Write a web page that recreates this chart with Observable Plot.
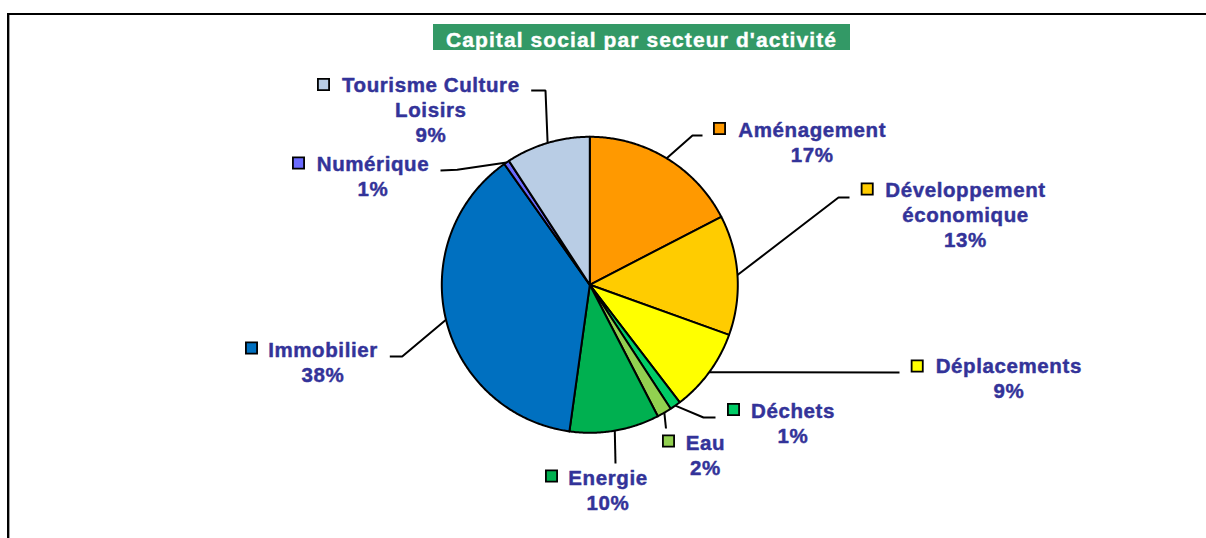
<!DOCTYPE html>
<html><head><meta charset="utf-8">
<script src="https://cdn.jsdelivr.net/npm/d3@7"></script>
<script src="https://cdn.jsdelivr.net/npm/@observablehq/plot@0.6"></script>
<style>
html,body{margin:0;padding:0;background:#fff;overflow:hidden;width:1206px;height:538px;}
#chart{position:absolute;left:0;top:0;}
#frame{position:absolute;left:7px;top:13px;width:1400px;height:700px;border-left:2px solid #000;border-top:2.5px solid #000;box-shadow:inset 1px 0 0 #a0a0a0;pointer-events:none;}
#title{position:absolute;left:433px;top:24px;width:417px;height:23px;padding-top:3px;background:#339966;color:#fff;font:bold 21px "Liberation Sans",Arial,sans-serif;letter-spacing:1.1px;text-align:center;line-height:26px;white-space:nowrap;-webkit-text-stroke:0.4px #fff;}
</style></head><body>
<div id="chart"></div><div id="frame"></div><div id="title">Capital social par secteur d'activité</div>
<script>
// ---- data ----
const sectors = ["Aménagement", "Développement économique", "Déplacements", "Déchets", "Eau", "Energie", "Immobilier", "Numérique", "Tourisme Culture Loisirs"];
const shares = [17.4, 13.1, 9.1, 1.2, 1.6, 9.8, 38.0, 0.6, 9.2];
const colors = ["#FF9900", "#FFCC00", "#FFFF00", "#00CC66", "#92D050", "#00B050", "#0070C0", "#6B6BFF", "#B9CDE5"];

// ---- layout (label placement, line breaks) ----
const pie = {cx: 589.3, cy: 284.3, r: 148};
const lineGap = 25;
const labelLayout = [
  {lines: ["Aménagement"], tx: 811.7, ty: 136, kx: 719, ky: 128, path: [[692, 135], [702, 135]]},
  {lines: ["Développement", "économique"], tx: 965, ty: 196, kx: 866.7, ky: 188.5, path: [[838, 197], [849, 197]]},
  {lines: ["Déplacements"], tx: 1008.3, ty: 372.3, kx: 916.7, ky: 365.5, path: [[899, 372]]},
  {lines: ["Déchets"], tx: 792.5, ty: 417.3, kx: 733, ky: 409, path: [[703, 417], [715, 417]]},
  {lines: ["Eau"], tx: 705, ty: 449.3, kx: 668, ky: 440.5, path: [[665.5, 428]]},
  {lines: ["Energie"], tx: 607.5, ty: 484, kx: 551, ky: 475.5, path: [[615, 463]]},
  {lines: ["Immobilier"], tx: 322.5, ty: 356.7, kx: 251, ky: 347.5, path: [[401.7, 356], [389.3, 356]]},
  {lines: ["Numérique"], tx: 372.5, ty: 170, kx: 298, ky: 162.5, path: [[456.7, 169.3], [440, 170]]},
  {lines: ["Tourisme Culture", "Loisirs"], tx: 430.3, ty: 91.7, kx: 323, ky: 84, path: [[545, 90], [530.7, 90]]}
];

// ---- derived geometry ----
const total = d3.sum(shares);
const slicePts = [], leaderPts = [], keyPts = [], textPts = [];
let acc = 0;
const px = a => pie.cx + pie.r * Math.sin(a);
const py = a => pie.cy - pie.r * Math.cos(a);
shares.forEach((v, i) => {
  const s = sectors[i];
  const a0 = acc / total * 2 * Math.PI;
  acc += v;
  const a1 = acc / total * 2 * Math.PI;
  slicePts.push({sector: s, x: pie.cx, y: pie.cy});
  const n = Math.max(2, Math.ceil((a1 - a0) / (Math.PI / 360)));
  for (let k = 0; k <= n; k++) {
    const a = a0 + (a1 - a0) * k / n;
    slicePts.push({sector: s, x: px(a), y: py(a)});
  }
  slicePts.push({sector: s, x: pie.cx, y: pie.cy});
  const am = (a0 + a1) / 2;
  const L = labelLayout[i];
  leaderPts.push({sector: s, x: px(am), y: py(am)});
  L.path.forEach(p => leaderPts.push({sector: s, x: p[0], y: p[1]}));
  keyPts.push({sector: s, x: L.kx, y: L.ky});
  const lines = [...L.lines, Math.round(v * 100 / total) + "%"];
  lines.forEach((t, j) => textPts.push({sector: s, x: L.tx, y: L.ty + j * lineGap, text: t}));
});

const chart = Plot.plot({
  width: 1206, height: 538,
  margin: 0,
  x: {domain: [0, 1206], range: [0, 1206], axis: null},
  y: {domain: [0, 538], range: [0, 538], axis: null},
  color: {domain: sectors, range: colors},
  style: {fontFamily: "'Liberation Sans', Arial, sans-serif", letterSpacing: "0.6px", background: "transparent"},
  marks: [
    Plot.line(slicePts, {x: "x", y: "y", z: "sector", fill: "sector", stroke: "#000", strokeWidth: 2, strokeLinejoin: "round"}),
    Plot.line(leaderPts, {x: "x", y: "y", z: "sector", stroke: "#000", strokeWidth: 2, strokeLinejoin: "miter", strokeLinecap: "butt"}),
    Plot.dot(keyPts, {x: "x", y: "y", symbol: "square", r: 6.3, fill: "sector", stroke: "#000", strokeWidth: 1.8}),
    Plot.text(textPts, {x: "x", y: "y", text: "text", lineAnchor: "bottom", textAnchor: "middle", fill: "#333399", stroke: "#333399", strokeWidth: 0.45, fontSize: 20.5, fontWeight: "bold"})
  ]
});
document.getElementById("chart").appendChild(chart);
</script>
</body></html>
